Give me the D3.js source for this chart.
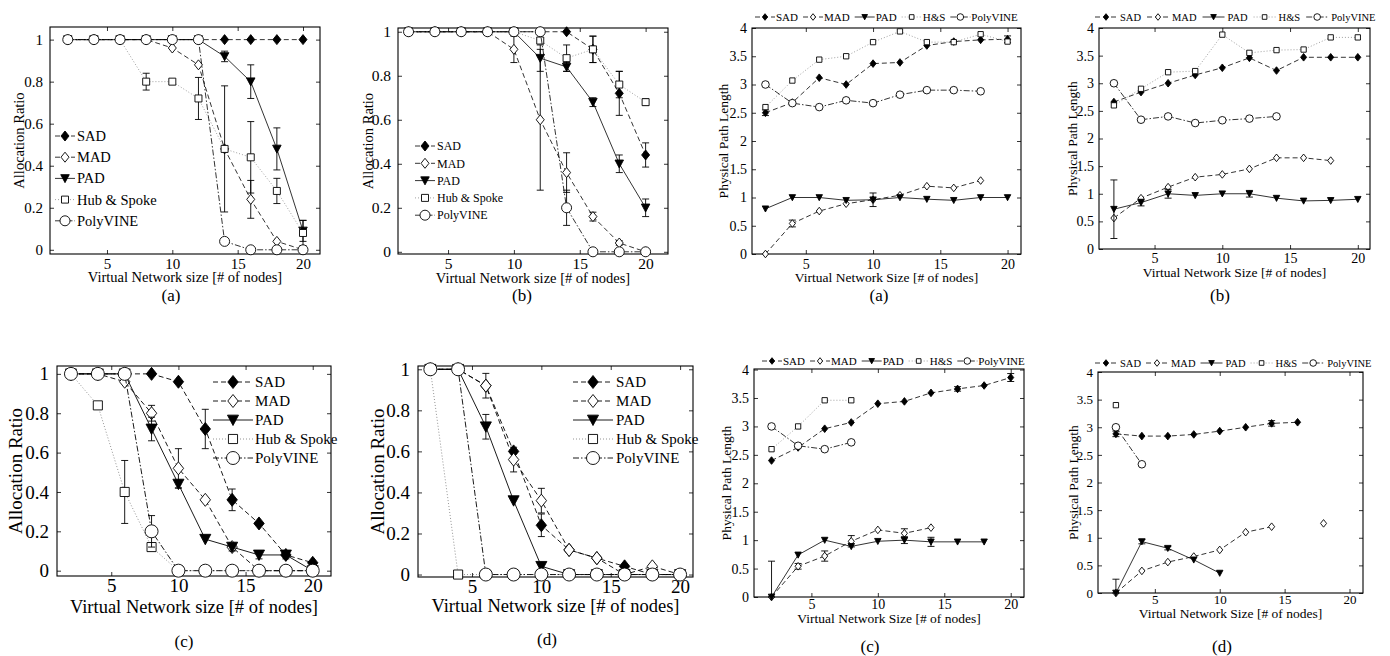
<!DOCTYPE html>
<html>
<head>
<meta charset="utf-8">
<script src="https://cdn.jsdelivr.net/npm/d3@7"></script>
<style>
  body { margin: 0; background: #fff; }
  svg { display: block; }
  text { font-family: 'Liberation Serif', 'Times New Roman', serif; fill: #000; }
</style>
</head>
<body>
<svg id="fig" width="1390" height="656"></svg>
<script>
// ---- data ----
const xs = [2, 4, 6, 8, 10, 12, 14, 16, 18, 20];
const xTicks = [5, 10, 15, 20];
const allocTicks = [0, 0.2, 0.4, 0.6, 0.8, 1];
const pathTicks = [0, 0.5, 1, 1.5, 2, 2.5, 3, 3.5, 4];
const longNames = ['SAD', 'MAD', 'PAD', 'Hub & Spoke', 'PolyVINE'];
const shortNames = ['SAD', 'MAD', 'PAD', 'H&S', 'PolyVINE'];

// allocation ratio, top (a)
const allocA_SAD = [1, 1, 1, 1, 1, 1, 1, 1, 1, 1];
const allocA_MAD = [1, 1, 1, 1, 0.96, 0.88, 0.48, 0.24, 0.04, 0];
const allocA_PAD = [1, 1, 1, 1, 1, 1, 0.92, 0.80, 0.48, 0.09];
const allocA_HS  = [1, 1, 1, 0.80, 0.80, 0.72, 0.48, 0.44, 0.28, 0.08];
const allocA_PV  = [1, 1, 1, 1, 1, 1, 0.04, 0, 0, 0];
const allocA_errMAD = [0, 0, 0, 0, 0, 0, 0, 0.09, 0, 0];
const allocA_errPAD = [0, 0, 0, 0, 0, 0, 0.025, 0.08, 0.10, 0.05];
const allocA_errHS  = [0, 0, 0, 0.04, 0, 0.10, 0.30, 0.17, 0.06, 0.06];

// allocation ratio, top (b)
const allocB_SAD = [1, 1, 1, 1, 1, 1, 1, 0.92, 0.72, 0.44];
const allocB_MAD = [1, 1, 1, 1, 0.92, 0.60, 0.36, 0.16, 0.04, 0];
const allocB_PAD = [1, 1, 1, 1, 1, 0.88, 0.84, 0.68, 0.40, 0.20];
const allocB_HS  = [1, 1, 1, 1, 1, 0.96, 0.88, 0.92, 0.76, 0.68];
const allocB_PV  = [1, 1, 1, 1, 1, 1, 0.20, 0, 0, 0];
const allocB_errSAD = [0, 0, 0, 0, 0, 0, 0, 0.06, 0.10, 0.055];
const allocB_errMAD = [0, 0, 0, 0, 0.06, 0.32, 0.09, 0.02, 0.01, 0];
const allocB_errPAD = [0, 0, 0, 0, 0, 0.06, 0.02, 0.02, 0.04, 0.04];
const allocB_errHS  = [0, 0, 0, 0, 0, 0, 0.06, 0.06, 0.06, 0.015];
const allocB_errPV  = [0, 0, 0, 0, 0, 0, 0.08, 0, 0, 0];

// physical path length, top (a)
const pathA_SAD = [2.50, 2.68, 3.12, 3.00, 3.37, 3.39, 3.69, 3.76, 3.79, 3.80];
const pathA_MAD = [0, 0.54, 0.76, 0.89, 0.96, 1.04, 1.20, 1.17, 1.30, null];
const pathA_PAD = [0.80, 1.0, 1.0, 0.95, 0.96, 1.0, 0.97, 0.95, 1.0, 1.0];
const pathA_HS  = [2.60, 3.07, 3.44, 3.50, 3.75, 3.94, 3.75, 3.75, 3.89, 3.76];
const pathA_PV  = [3.00, 2.67, 2.60, 2.72, 2.67, 2.82, 2.90, 2.90, 2.88, null];
const pathA_errSAD = [0.05, 0, 0, 0, 0, 0, 0, 0, 0, 0.06];
const pathA_errMAD = [0, 0.06, 0, 0, 0, 0, 0, 0, 0, 0];
const pathA_errPAD = [0, 0, 0, 0, 0.12, 0, 0, 0, 0, 0];

// physical path length, top (b)
const pathB_SAD = [2.66, 2.84, 3.00, 3.15, 3.28, 3.46, 3.23, 3.47, 3.47, 3.47];
const pathB_MAD = [0.56, 0.92, 1.12, 1.30, 1.35, 1.45, 1.65, 1.65, 1.60, null];
const pathB_PAD = [0.72, 0.84, 1.00, 0.97, 1.00, 1.00, 0.92, 0.87, 0.88, 0.90];
const pathB_HS  = [2.60, 2.90, 3.20, 3.22, 3.88, 3.55, 3.60, 3.61, 3.83, 3.83];
const pathB_PV  = [3.00, 2.34, 2.40, 2.28, 2.33, 2.36, 2.40, null, null, null];
const pathB_errPAD = [0.53, 0.06, 0.08, 0, 0, 0.06, 0, 0, 0, 0];

// allocation ratio, bottom (c)
const allocC_SAD = [1, 1, 1, 1, 0.96, 0.72, 0.36, 0.24, 0.08, 0.04];
const allocC_MAD = [1, 1, 0.96, 0.80, 0.52, 0.36, 0.12, 0, 0, 0];
const allocC_PAD = [1, 1, 1, 0.72, 0.44, 0.16, 0.12, 0.08, 0.08, 0];
const allocC_HS  = [1, 0.84, 0.40, 0.12, 0, 0, 0, 0, 0, 0];
const allocC_PV  = [1, 1, 1, 0.20, 0, 0, 0, 0, 0, 0];
const allocC_errSAD = [0, 0, 0, 0, 0, 0.10, 0.055, 0, 0, 0];
const allocC_errMAD = [0, 0, 0, 0.04, 0.10, 0, 0, 0, 0, 0];
const allocC_errPAD = [0, 0, 0, 0.06, 0.02, 0, 0.02, 0.02, 0.02, 0];
const allocC_errHS  = [0, 0, 0.16, 0.02, 0, 0, 0, 0, 0, 0];
const allocC_errPV  = [0, 0, 0, 0.08, 0, 0, 0, 0, 0, 0];

// allocation ratio, bottom (d)
const allocD_SAD = [1, 1, 0.92, 0.60, 0.24, 0.12, 0.08, 0.04, 0, 0];
const allocD_MAD = [1, 1, 0.92, 0.56, 0.36, 0.12, 0.08, 0, 0.04, 0];
const allocD_PAD = [1, 1, 0.72, 0.36, 0.04, 0, 0, 0, 0, 0];
const allocD_HS  = [1, 0, 0, 0, 0, 0, 0, 0, 0, 0];
const allocD_PV  = [1, 1, 0, 0, 0, 0, 0, 0, 0, 0];
const allocD_errSAD = [0, 0, 0, 0, 0.055, 0, 0, 0, 0, 0];
const allocD_errMAD = [0, 0, 0.06, 0.06, 0.06, 0, 0, 0, 0, 0];
const allocD_errPAD = [0, 0, 0.06, 0, 0, 0, 0, 0, 0, 0];

// physical path length, bottom (c)
const pathC_SAD = [2.40, 2.63, 2.96, 3.07, 3.40, 3.44, 3.59, 3.66, 3.72, 3.86];
const pathC_MAD = [0, 0.54, 0.72, 0.98, 1.18, 1.12, 1.22, null, null, null];
const pathC_PAD = [0, 0.74, 1.00, 0.89, 0.98, 1.00, 0.97, 0.97, 0.97, null];
const pathC_HS  = [2.60, 3.00, 3.46, 3.46, null, null, null, null, null, null];
const pathC_PV  = [3.00, 2.66, 2.60, 2.72, null, null, null, null, null, null];
const pathC_errSAD = [0, 0, 0, 0, 0, 0, 0, 0.04, 0, 0.07];
const pathC_errMAD = [0, 0.05, 0.09, 0.10, 0, 0.08, 0, 0, 0, 0];
const pathC_errPAD = [0.63, 0, 0, 0, 0, 0.06, 0.08, 0, 0, 0];

// physical path length, bottom (d)
const pathD_SAD = [2.88, 2.84, 2.84, 2.87, 2.93, 3.00, 3.07, 3.09, null, null];
const pathD_MAD = [0, 0.40, 0.56, 0.66, 0.78, 1.10, 1.20, null, 1.26, null];
const pathD_PAD = [0, 0.93, 0.81, 0.60, 0.36, null, null, null, null, null];
const pathD_HS  = [3.40, null, null, null, null, null, null, null, null, null];
const pathD_PV  = [3.00, 2.33, null, null, null, null, null, null, null, null];
const pathD_errSAD = [0.05, 0, 0, 0, 0, 0, 0.05, 0, 0, 0];
const pathD_errPAD = [0.25, 0.04, 0.03, 0, 0, 0, 0, 0, 0, 0];

// ---- styles ----
const styles = [
  { dash: '5,3', marker: 'diamond', fill: '#000', line: '#000' },
  { dash: '5,3', marker: 'diamond', fill: '#fff', line: '#000' },
  { dash: null, marker: 'tri', fill: '#000', line: '#000' },
  { dash: '1,2', marker: 'square', fill: '#fff', line: '#888' },
  { dash: '6,2,1.5,2', marker: 'circle', fill: '#fff', line: '#000' }
];

const svg = d3.select('#fig');

function markerPath(type, s) {
  if (type === 'diamond') return `M0,${-s}L${0.8 * s},0L0,${s}L${-0.8 * s},0Z`;
  if (type === 'tri') return `M${-0.85 * s},${-0.75 * s}L${0.85 * s},${-0.75 * s}L0,${0.85 * s}Z`;
  if (type === 'square') { const h = 0.7 * s; return `M${-h},${-h}H${h}V${h}H${-h}Z`; }
  return `M${s},0A${s},${s} 0 1,1 ${-s},0A${s},${s} 0 1,1 ${s},0Z`;
}

function sample(g, x0, x1, y, st, ms, lw) {
  g.append('line').attr('x1', x0).attr('x2', x1).attr('y1', y).attr('y2', y)
    .attr('stroke', st.line).attr('stroke-width', lw)
    .attr('stroke-dasharray', st.dash);
  g.append('path').attr('d', markerPath(st.marker, ms))
    .attr('transform', `translate(${(x0 + x1) / 2},${y})`)
    .attr('fill', st.fill).attr('stroke', '#000').attr('stroke-width', 0.9);
}

function drawPanel(p) {
  const [L, T, R, B] = p.box;
  const g = svg.append('g');
  const x = d3.scaleLinear().domain(p.xDom).range([L, R]);
  const y = d3.scaleLinear().domain(p.yDom).range([B, T]);
  const tk = 4;

  const axes = [
    g.append('g').attr('transform', `translate(0,${B})`)
      .call(d3.axisBottom(x).tickValues(xTicks).tickSizeInner(-tk).tickSizeOuter(0).tickPadding(p.xPad)),
    g.append('g').attr('transform', `translate(0,${T})`)
      .call(d3.axisTop(x).tickValues(xTicks).tickSizeInner(-tk).tickSizeOuter(0).tickFormat('')),
    g.append('g').attr('transform', `translate(${L},0)`)
      .call(d3.axisLeft(y).tickValues(p.yTicks).tickSizeInner(-tk).tickSizeOuter(0).tickPadding(p.yPad).tickFormat(d => String(+d.toFixed(2)))),
    g.append('g').attr('transform', `translate(${R},0)`)
      .call(d3.axisRight(y).tickValues(p.yTicks).tickSizeInner(-tk).tickSizeOuter(0).tickFormat(''))
  ];
  axes.forEach(a => {
    a.attr('font-size', p.tickFont);
    a.select('.domain').remove();
    a.selectAll('.tick line').attr('stroke', '#000').attr('stroke-width', 0.8);
  });
  g.append('rect').attr('x', L).attr('y', T).attr('width', R - L).attr('height', B - T)
    .attr('fill', 'none').attr('stroke', '#000').attr('stroke-width', 1.1);

  // labels
  g.append('text').attr('x', (L + R) / 2).attr('y', B + p.xLabDy)
    .attr('text-anchor', 'middle').attr('font-size', p.xLabFont || p.labFont).text(p.xLabel);
  g.append('text').attr('transform', `translate(${p.yLabX},${(T + B) / 2}) rotate(-90)`)
    .attr('dy', '0.35em').attr('text-anchor', 'middle').attr('font-size', p.labFont).text(p.yLabel);
  g.append('text').attr('x', p.cap[0]).attr('y', p.cap[1])
    .attr('text-anchor', 'middle').attr('font-size', 17).text(p.caption);

  const [y0, y1] = p.yDom;
  const clampY = v => Math.max(y0, Math.min(y1, v));

  p.series.forEach((s, k) => {
    const st = styles[k];
    const pts = xs.map((xv, i) => ({ x: xv, v: s.y[i], e: s.err ? s.err[i] : 0 }));
    const line = d3.line().defined(d => d.v != null).x(d => x(d.x)).y(d => y(d.v));
    g.append('path').datum(pts).attr('d', line).attr('fill', 'none')
      .attr('stroke', st.line).attr('stroke-width', p.lw).attr('stroke-dasharray', st.dash);

    pts.filter(d => d.v != null && d.e > 0).forEach(d => {
      const cx = x(d.x), ya = y(clampY(d.v - d.e)), yb = y(clampY(d.v + d.e));
      g.append('line').attr('x1', cx).attr('x2', cx).attr('y1', ya).attr('y2', yb)
        .attr('stroke', '#000').attr('stroke-width', 0.9);
      [ya, yb].forEach(yy => g.append('line').attr('x1', cx - 3.5).attr('x2', cx + 3.5)
        .attr('y1', yy).attr('y2', yy).attr('stroke', '#000').attr('stroke-width', 0.9));
    });

    g.selectAll(null).data(pts.filter(d => d.v != null)).join('path')
      .attr('d', markerPath(st.marker, p.ms))
      .attr('transform', d => `translate(${x(d.x)},${y(d.v)})`)
      .attr('fill', st.fill).attr('stroke', '#000').attr('stroke-width', 0.9);
  });

  // legend
  const lg = p.legend;
  if (lg.type === 'col') {
    longNames.forEach((name, k) => {
      const yy = lg.y + k * lg.dy;
      sample(g, lg.x, lg.x + lg.len, yy, styles[k], p.ms, p.lw);
      g.append('text').attr('x', lg.x + lg.len + lg.gap).attr('y', yy).attr('dy', '0.35em')
        .attr('font-size', lg.font).text(name);
    });
  } else {
    let cx = lg.x;
    shortNames.forEach((name, k) => {
      sample(g, cx, cx + lg.len, lg.y, styles[k], lg.ms, p.lw);
      const t = g.append('text').attr('x', cx + lg.len + lg.gap).attr('y', lg.y).attr('dy', '0.35em')
        .attr('font-size', lg.font).text(name);
      cx += lg.len + lg.gap + t.node().getComputedTextLength() + lg.itemGap;
    });
  }
}

const allocLabel = 'Allocation Ratio';
const pathLabel = 'Physical Path Length';
const xAllocLabel = 'Virtual Network size [# of nodes]';
const xPathLabel = 'Virtual Network Size [# of nodes]';

const panels = [
  { box: [50, 27, 320, 254], xDom: [0.64, 21.3], yDom: [-0.02, 1.06], yTicks: allocTicks,
    tickFont: 15, labFont: 14.5, xPad: 4, yPad: 7, xLabDy: 28, yLabX: 19, xLabel: xAllocLabel, yLabel: allocLabel,
    caption: '(a)', cap: [171, 301], ms: 5, lw: 0.8,
    legend: { type: 'col', x: 55, y: 136, dy: 21.2, len: 20, gap: 2, font: 14.5 },
    series: [{ y: allocA_SAD }, { y: allocA_MAD, err: allocA_errMAD }, { y: allocA_PAD, err: allocA_errPAD },
             { y: allocA_HS, err: allocA_errHS }, { y: allocA_PV }] },
  { box: [398, 28, 668, 254], xDom: [1.2, 21.7], yDom: [-0.01, 1.017], yTicks: allocTicks,
    tickFont: 15.5, labFont: 14.5, xPad: 3.5, yPad: 7, xLabDy: 29, yLabX: 368, xLabel: xAllocLabel, yLabel: allocLabel,
    caption: '(b)', cap: [522, 301], ms: 5, lw: 0.8,
    legend: { type: 'col', x: 415, y: 146, dy: 17.3, len: 20, gap: 2, font: 12 },
    series: [{ y: allocB_SAD, err: allocB_errSAD }, { y: allocB_MAD, err: allocB_errMAD }, { y: allocB_PAD, err: allocB_errPAD },
             { y: allocB_HS, err: allocB_errHS }, { y: allocB_PV, err: allocB_errPV }] },
  { box: [752, 28, 1021, 254], xDom: [1, 21], yDom: [0, 4], yTicks: pathTicks,
    tickFont: 14, labFont: 13.5, xPad: 5, yPad: 5, xLabDy: 28, yLabX: 723, xLabel: xPathLabel, yLabel: pathLabel,
    caption: '(a)', cap: [879, 301], ms: 3.8, lw: 0.8,
    legend: { type: 'row', x: 755, y: 17, len: 20, gap: 1, itemGap: 5, font: 11, ms: 3.3 },
    series: [{ y: pathA_SAD, err: pathA_errSAD }, { y: pathA_MAD, err: pathA_errMAD }, { y: pathA_PAD, err: pathA_errPAD },
             { y: pathA_HS }, { y: pathA_PV }] },
  { box: [1099, 28, 1370, 249], xDom: [0.9, 20.9], yDom: [0, 4], yTicks: pathTicks,
    tickFont: 14, labFont: 13.5, xPad: 4, yPad: 5, xLabDy: 28, yLabX: 1072, xLabel: xPathLabel, yLabel: pathLabel,
    caption: '(b)', cap: [1220, 301], ms: 3.8, lw: 0.8,
    legend: { type: 'row', x: 1095, y: 17, len: 22, gap: 3, itemGap: 6, font: 10.5, ms: 3.3 },
    series: [{ y: pathB_SAD }, { y: pathB_MAD }, { y: pathB_PAD, err: pathB_errPAD },
             { y: pathB_HS }, { y: pathB_PV }] },
  { box: [57, 366, 331, 576], xDom: [0.96, 21.36], yDom: [-0.027, 1.04], yTicks: allocTicks,
    tickFont: 19, labFont: 19, xLabFont: 18.5, xPad: 2.5, yPad: 8, xLabDy: 37, yLabX: 15, xLabel: xAllocLabel, yLabel: allocLabel,
    caption: '(c)', cap: [184, 647], ms: 6.5, lw: 0.9,
    legend: { type: 'col', x: 213, y: 382, dy: 19, len: 40, gap: 2, font: 15 },
    series: [{ y: allocC_SAD, err: allocC_errSAD }, { y: allocC_MAD, err: allocC_errMAD }, { y: allocC_PAD, err: allocC_errPAD },
             { y: allocC_HS, err: allocC_errHS }, { y: allocC_PV, err: allocC_errPV }] },
  { box: [418, 366, 693, 577], xDom: [1.11, 20.93], yDom: [-0.012, 1.016], yTicks: allocTicks,
    tickFont: 19, labFont: 19, xLabFont: 18.5, xPad: 2, yPad: 8, xLabDy: 35, yLabX: 377, xLabel: xAllocLabel, yLabel: allocLabel,
    caption: '(d)', cap: [547, 645], ms: 6.5, lw: 0.9,
    legend: { type: 'col', x: 573, y: 382, dy: 19, len: 40, gap: 3, font: 15 },
    series: [{ y: allocD_SAD, err: allocD_errSAD }, { y: allocD_MAD, err: allocD_errMAD }, { y: allocD_PAD, err: allocD_errPAD },
             { y: allocD_HS }, { y: allocD_PV }] },
  { box: [754, 369, 1024, 597], xDom: [0.68, 21], yDom: [0, 4.01], yTicks: pathTicks,
    tickFont: 14, labFont: 13.5, xPad: 2, yPad: 5, xLabDy: 26, yLabX: 726, xLabel: xPathLabel, yLabel: pathLabel,
    caption: '(c)', cap: [870, 652], ms: 3.8, lw: 0.8,
    legend: { type: 'row', x: 762, y: 361, len: 20, gap: 1, itemGap: 5, font: 11, ms: 3.3 },
    series: [{ y: pathC_SAD, err: pathC_errSAD }, { y: pathC_MAD, err: pathC_errMAD }, { y: pathC_PAD, err: pathC_errPAD },
             { y: pathC_HS }, { y: pathC_PV }] },
  { box: [1098, 372, 1363, 593], xDom: [0.62, 21.04], yDom: [0, 4], yTicks: pathTicks,
    tickFont: 13, labFont: 13.5, xPad: 2, yPad: 5, xLabDy: 25, yLabX: 1073, xLabel: xPathLabel, yLabel: pathLabel,
    caption: '(d)', cap: [1222, 652], ms: 3.8, lw: 0.8,
    legend: { type: 'row', x: 1095, y: 363, len: 22, gap: 3, itemGap: 5, font: 10.5, ms: 3.3 },
    series: [{ y: pathD_SAD, err: pathD_errSAD }, { y: pathD_MAD }, { y: pathD_PAD, err: pathD_errPAD },
             { y: pathD_HS }, { y: pathD_PV }] }
];

panels.forEach(drawPanel);
</script>
</body>
</html>
